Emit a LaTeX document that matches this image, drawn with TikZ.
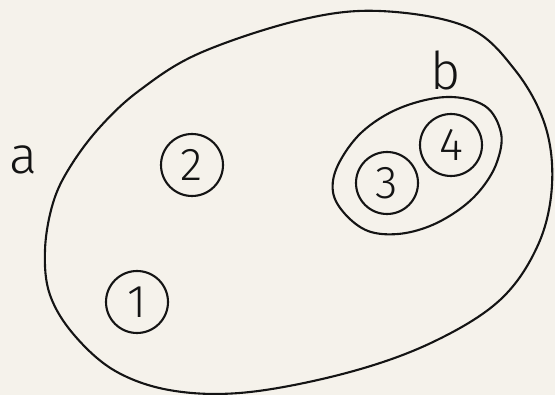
\documentclass[tikz,border=0pt]{standalone}
\usepackage{fontspec}
\setmainfont{Fira Sans}[UprightFont={* Light}]
\definecolor{paper}{RGB}{245,242,235}
\definecolor{ink}{RGB}{20,20,20}
\tikzset{
  curveline/.style={draw=ink, line width=2.1pt, line join=round},
  elem/.style={circle, draw=ink, line width=2.1pt, minimum size=62pt, inner sep=0pt,
    font=\fontsize{46}{46}\selectfont, text=ink},
  setlabel/.style={inner sep=0pt, font=\fontsize{52}{52}\selectfont, text=ink}
}
\begin{document}
\begin{tikzpicture}[x=1pt,y=-1pt]
\fill[paper] (0,0) rectangle (555,395);
\useasboundingbox (0,0) rectangle (555,395);
% outer set a
\draw[curveline] plot[smooth cycle, tension=0.6] coordinates {
 (45,250) (53,203) (70,167) (100,127) (140,90) (200,53) (300,20) (380,11)
 (467,27) (515,70) (545,125) (552,185) (538,245) (500,300) (433,342)
 (350,372) (250,392) (175,391) (117,372) (75,336) (50,295)};
% inner set b
\draw[curveline] plot[smooth cycle, tension=0.6] coordinates {
 (447,97) (485,106) (501,133) (497,162) (482,188) (460,209) (430,226)
 (398,234) (368,231) (345,214) (333,192) (338,165) (362,132) (400,108)};
\node[elem] (n1) at (137,302) {1};
\node[elem] (n2) at (192,165) {2};
\node[elem] (n3) at (387,183) {3};
\node[elem] (n4) at (451,145) {4};
\node[setlabel] (la) at (23,160) {a};
\node[setlabel] (lb) at (446,70) {b};
\end{tikzpicture}
\end{document}
